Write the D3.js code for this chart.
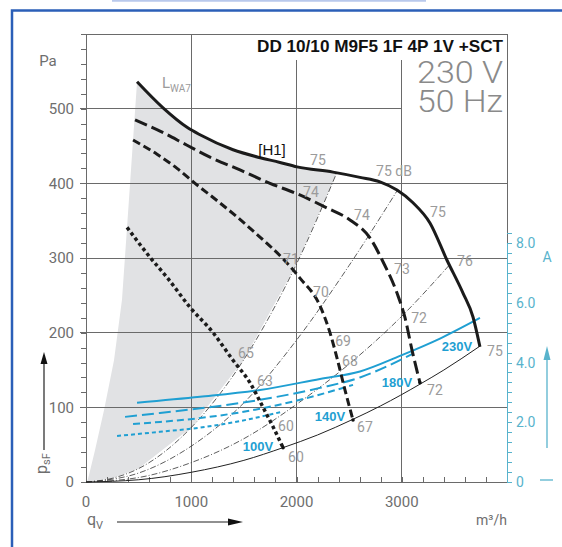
<!DOCTYPE html>
<html><head><meta charset="utf-8">
<script src="https://cdn.jsdelivr.net/npm/d3@7"></script>
<style>body{margin:0;background:#fff}svg{display:block}</style>
</head><body><svg id="c" width="562" height="547"></svg>
<script>
// ---------------- data ----------------
const title = "DD 10/10 M9F5 1F 4P 1V +SCT";
const supply = ["230 V", "50 Hz"];
const xTickValues = [0, 1000, 2000, 3000];
const yTickValues = [0, 100, 200, 300, 400, 500];
const aTickValues = [0, 2, 4, 6, 8];
const aTickLabels = ["0", "2.0", "4.0", "6.0", "8.0"];

// static pressure curves (q in m3/h, p in Pa)
const qH1  = [485, 732, 960, 1083, 1397, 1634, 1843, 2005, 2347, 2603, 2793, 2955, 3107, 3268, 3430, 3582, 3677, 3743];
const pH1  = [536, 501, 475, 465, 445, 435, 428, 422, 415, 408, 402, 391, 374, 347, 297, 253, 221, 181];
const q180 = [466, 703, 960, 1178, 1463, 1748, 2005, 2290, 2508, 2698, 2822, 2955, 3031, 3097, 3173];
const p180 = [485, 470, 451, 435, 418, 400, 386, 367, 351, 327, 295, 253, 220, 177, 133];
const q140 = [447, 675, 865, 1036, 1226, 1435, 1653, 1872, 2033, 2223, 2318, 2385, 2461, 2537];
const p140 = [458, 439, 420, 400, 379, 355, 328, 299, 273, 236, 200, 166, 123, 83];
const q100 = [390, 608, 770, 988, 1207, 1397, 1558, 1682, 1777, 1872];
const p100 = [341, 301, 274, 234, 200, 163, 133, 100, 74, 46];

// current curves (A)
const iq230 = [485, 1083, 1653, 2223, 2603, 2983, 3363, 3743];
const i230  = [2.65, 2.85, 3.08, 3.45, 3.70, 4.22, 4.80, 5.49];
const iq180 = [371, 703, 1653, 2223, 2603, 3107];
const i180  = [2.18, 2.31, 2.75, 3.15, 3.50, 4.30];
const iq140 = [447, 703, 1083, 1653, 2033, 2537];
const i140  = [1.94, 2.01, 2.14, 2.45, 2.75, 3.25];
const iq100 = [295, 703, 1083, 1463, 1872];
const i100  = [1.54, 1.68, 1.82, 2.04, 2.36];

// system (iso-LWA) lines
const qSysA = [0, 250, 500, 1000, 1500, 2000, 2385];
const pSysA = [0, 5, 18, 73, 164, 292, 415];
const qSysB = [0, 500, 1000, 1500, 2000, 2500, 2960];
const pSysB = [0, 12, 48, 106, 190, 290, 391];
const qSysC = [0, 500, 1000, 1500, 2000, 2500, 3000, 3455];
const pSysC = [0, 6, 26, 58, 104, 158, 222, 291];
const qSysD = [0, 500, 1000, 1500, 1872, 2200, 2537, 2800, 3173, 3400, 3743];
const pSysD = [0, 3, 13, 29, 46, 63, 84, 102, 131, 150, 182];

// left edge of the shaded LWA7 area
const qShadeEdge = [10, 28, 86, 171, 266, 342, 408, 485];
const pShadeEdge = [0, 9, 43, 96, 163, 244, 378, 536];

// sound level labels
const dbText = ["75","75 dB","74","74","75","73","76","71","70","69","72","68","65","63","60","60","67","72","75"];
const dbQ    = [2204, 2926, 2137, 2622, 3344, 3002, 3600, 1947, 2232, 2442, 3164, 2508, 1520, 1700, 1900, 1995, 2650, 3315, 3885];
const dbP    = [431, 416, 388, 357, 362, 285, 296, 299, 254, 189, 220, 162, 173, 135, 75, 33, 74, 123, 175];

// voltage labels
const voltText = ["230V", "180V", "140V", "100V"];
const voltQ = [3524, 2955, 2318, 1634];
const voltP = [182, 134, 88, 48];

// ---------------- drawing ----------------
const svg = d3.select("#c");
const x = d3.scaleLinear().domain([0, 4000]).range([86, 507]);
const y = d3.scaleLinear().domain([0, 600]).range([482, 34]);
const yA = d3.scaleLinear().domain([0, 8]).range([482, 243]);

const zip = (a, b) => a.map((v, i) => [v, b[i]]);
const lineP = d3.line().x(d => x(d[0])).y(d => y(d[1])).curve(d3.curveMonotoneX);
const lineA = d3.line().x(d => x(d[0])).y(d => yA(d[1])).curve(d3.curveMonotoneX);

const GRAY = "#6a6a6a", LBL = "#9b9b9b", TEAL = "#1f9fd2", AXT = "#58b3cc";
const FONT = "'Liberation Sans', Arial, sans-serif";
const LIGHT = "Roboto, 'Liberation Sans', sans-serif";

// outer blue frame
svg.append("line").attr("x1", 112).attr("x2", 426).attr("y1", 0.8).attr("y2", 0.8)
  .attr("stroke", "#b9c9ec").attr("stroke-width", 2);
svg.append("path").attr("d", "M12,547V10.5H562").attr("fill", "none")
  .attr("stroke", "#2b5fb8").attr("stroke-width", 2.5);

// shaded area
const h1 = zip(qH1, pH1);
const sysA = zip(qSysA, pSysA);
const shadeTop = h1.filter(d => d[0] < qSysA[qSysA.length - 1]);
const shadePts = zip(qShadeEdge, pShadeEdge)
  .concat(shadeTop)
  .concat(sysA.slice().reverse());
svg.append("path").attr("d", d3.line().x(d => x(d[0])).y(d => y(d[1])).curve(d3.curveLinear)(shadePts))
  .attr("fill", "#e1e2e4").attr("stroke", "none");

// grid
const g = svg.append("g").attr("stroke", GRAY).attr("stroke-width", 1).attr("shape-rendering", "crispEdges");
yTickValues.filter(v => v > 0).forEach(v => {
  g.append("line").attr("x1", 80).attr("x2", v === 500 ? x(3000) : x(4000))
    .attr("y1", y(v)).attr("y2", y(v));
});
xTickValues.filter(v => v > 0).forEach(v => {
  g.append("line").attr("x1", x(v)).attr("x2", x(v))
    .attr("y1", v === 1000 ? y(600) : y(565)).attr("y2", y(0));
});
// frame
g.append("line").attr("x1", 81).attr("x2", x(4000)).attr("y1", y(600)).attr("y2", y(600));
g.append("line").attr("x1", x(4000)).attr("x2", x(4000)).attr("y1", y(600)).attr("y2", y(0));
g.append("line").attr("x1", x(0)).attr("x2", x(0)).attr("y1", y(600)).attr("y2", y(0));
g.append("line").attr("x1", x(0)).attr("x2", x(4000)).attr("y1", y(0)).attr("y2", y(0));

// axes ticks
const ax1 = svg.append("g").attr("transform", `translate(${x(0)},0)`)
  .call(d3.axisLeft(y).tickValues(d3.range(0, 601, 20)).tickSize(5).tickFormat(""));
ax1.select(".domain").remove();
ax1.selectAll("line").attr("stroke", GRAY).attr("shape-rendering", "crispEdges");
const ax2 = svg.append("g").attr("transform", `translate(0,${y(0)})`)
  .call(d3.axisTop(x).tickValues(d3.range(0, 4001, 200)).tickSize(5).tickFormat(""));
ax2.select(".domain").remove();
ax2.selectAll("line").attr("stroke", GRAY).attr("shape-rendering", "crispEdges");
const ax3 = svg.append("g").attr("transform", `translate(${x(4000)},0)`)
  .call(d3.axisRight(yA).tickValues(d3.range(0, 8.4, 1 / 3)).tickSize(5).tickFormat(""));
ax3.select(".domain").attr("stroke", AXT);
ax3.selectAll("line").attr("stroke", AXT).attr("shape-rendering", "crispEdges");

// tick labels
svg.append("g").selectAll("text").data(yTickValues).join("text")
  .attr("x", 74).attr("y", d => y(d)).attr("dy", "0.36em").attr("text-anchor", "end")
  .attr("font-family", LIGHT).attr("font-size", 15).attr("fill", "#6e6e6e").text(d => d);
svg.append("g").selectAll("text").data(xTickValues).join("text")
  .attr("x", d => x(d)).attr("y", 507).attr("text-anchor", "middle")
  .attr("font-family", LIGHT).attr("font-size", 15).attr("fill", "#6e6e6e").text(d => d);
svg.append("g").selectAll("text").data(aTickValues).join("text")
  .attr("x", 516).attr("y", d => yA(d)).attr("dy", "0.36em")
  .attr("font-family", LIGHT).attr("font-size", 14).attr("fill", AXT).text((d, i) => aTickLabels[i]);

// axis titles
svg.append("text").attr("x", 48).attr("y", 66).attr("text-anchor", "middle")
  .attr("font-family", LIGHT).attr("font-size", 15).attr("fill", "#6e6e6e").text("Pa");
svg.append("text").attr("x", 547).attr("y", 262).attr("text-anchor", "middle")
  .attr("font-family", LIGHT).attr("font-size", 14).attr("fill", AXT).text("A");
svg.append("text").attr("x", 507).attr("y", 525).attr("text-anchor", "end")
  .attr("font-family", LIGHT).attr("font-size", 14).attr("fill", "#6e6e6e")
  .text("m³/h");
const qv = svg.append("text").attr("x", 87).attr("y", 525)
  .attr("font-family", LIGHT).attr("font-size", 16).attr("fill", "#6e6e6e");
qv.append("tspan").text("q");
qv.append("tspan").attr("font-size", 11).attr("dy", 4).text("V");
const ps = svg.append("text").attr("transform", "translate(47,474) rotate(-90)")
  .attr("font-family", LIGHT).attr("font-size", 16).attr("fill", "#6e6e6e");
ps.append("tspan").text("p");
ps.append("tspan").attr("font-size", 11).attr("dy", 3).text("sF");

// arrows
svg.append("line").attr("x1", 44).attr("x2", 44).attr("y1", 450).attr("y2", 362).attr("stroke", "#222").attr("stroke-width", 1.2);
svg.append("path").attr("d", "M44,352L40.5,364L47.5,364Z").attr("fill", "#111");
svg.append("line").attr("x1", 117).attr("x2", 230).attr("y1", 522).attr("y2", 522).attr("stroke", "#222").attr("stroke-width", 1.2);
svg.append("path").attr("d", "M243,522L228,518.5L228,525.5Z").attr("fill", "#111");
svg.append("line").attr("x1", 547).attr("x2", 547).attr("y1", 448).attr("y2", 358).attr("stroke", AXT).attr("stroke-width", 1.3);
svg.append("path").attr("d", "M547,346L543.5,360L550.5,360Z").attr("fill", AXT);
svg.append("line").attr("x1", 540).attr("x2", 553).attr("y1", 480).attr("y2", 480).attr("stroke", AXT).attr("stroke-width", 1.3);

// system lines
const sys = svg.append("g").attr("fill", "none");
[[qSysA, pSysA], [qSysB, pSysB], [qSysC, pSysC]].forEach(([q, p]) => {
  sys.append("path").attr("d", lineP(zip(q, p))).attr("stroke", "#333")
    .attr("stroke-width", 0.8).attr("stroke-dasharray", "6,2,1,2");
});
sys.append("path").attr("d", lineP(zip(qSysD, pSysD))).attr("stroke", "#222").attr("stroke-width", 1);

// current curves
const cur = svg.append("g").attr("fill", "none").attr("stroke", TEAL).attr("stroke-width", 2);
cur.append("path").attr("d", lineA(zip(iq230, i230)));
cur.append("path").attr("d", lineA(zip(iq180, i180))).attr("stroke-dasharray", "12,5");
cur.append("path").attr("d", lineA(zip(iq140, i140))).attr("stroke-dasharray", "7,4");
cur.append("path").attr("d", lineA(zip(iq100, i100))).attr("stroke-dasharray", "4,3");

// pressure curves
const pc = svg.append("g").attr("fill", "none").attr("stroke", "#1b1b1b");
pc.append("path").attr("d", lineP(h1)).attr("stroke-width", 3);
pc.append("path").attr("d", lineP(zip(q180, p180))).attr("stroke-width", 3).attr("stroke-dasharray", "13,5");
pc.append("path").attr("d", lineP(zip(q140, p140))).attr("stroke-width", 3).attr("stroke-dasharray", "8,4");
pc.append("path").attr("d", lineP(zip(q100, p100))).attr("stroke-width", 3.5).attr("stroke-dasharray", "3.5,3");
// end marks
svg.append("g").selectAll("circle").data([[q180, p180], [q140, p140], [q100, p100]]).join("circle")
  .attr("cx", d => x(d[0][d[0].length - 1])).attr("cy", d => y(d[1][d[1].length - 1]))
  .attr("r", 1.8).attr("fill", "#111");

// dB labels
svg.append("g").selectAll("text").data(dbText).join("text")
  .attr("x", (d, i) => x(dbQ[i])).attr("y", (d, i) => y(dbP[i])).attr("dy", "0.36em")
  .attr("text-anchor", "middle").attr("font-family", LIGHT).attr("font-size", 14)
  .attr("fill", LBL).text(d => d);

// voltage labels
svg.append("g").selectAll("text").data(voltText).join("text")
  .attr("x", (d, i) => x(voltQ[i])).attr("y", (d, i) => y(voltP[i])).attr("dy", "0.36em")
  .attr("text-anchor", "middle").attr("font-family", FONT).attr("font-weight", "bold")
  .attr("font-size", 13).attr("fill", TEAL).text(d => d);

// LWA7 + H1
const lw = svg.append("text").attr("x", x(722)).attr("y", y(528))
  .attr("font-family", LIGHT).attr("font-size", 15).attr("fill", LBL);
lw.append("tspan").text("L");
lw.append("tspan").attr("font-size", 10).attr("dy", 4).text("WA7");
svg.append("text").attr("x", x(1767)).attr("y", y(438)).attr("text-anchor", "middle")
  .attr("font-family", FONT).attr("font-size", 15).attr("fill", "#111").text("[H1]");

// titles
svg.append("text").attr("x", 503).attr("y", 52).attr("text-anchor", "end")
  .attr("font-family", FONT).attr("font-weight", "bold").attr("font-size", 17)
  .attr("textLength", 246).attr("lengthAdjust", "spacingAndGlyphs")
  .attr("fill", "#111").text(title);
svg.selectAll("text.sup").data(supply).join("text").attr("class", "sup")
  .attr("x", 503).attr("y", (d, i) => 83 + i * 28.5).attr("text-anchor", "end")
  .attr("font-family", LIGHT).attr("font-weight", 300).attr("font-size", 32)
  .attr("textLength", 86).attr("lengthAdjust", "spacingAndGlyphs")
  .attr("fill", "#8a8a8a").text(d => d);
</script></body></html>
